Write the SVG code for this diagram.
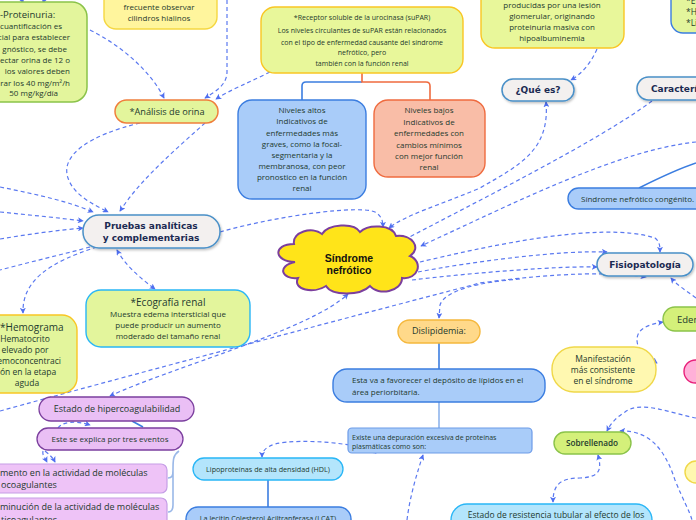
<svg xmlns="http://www.w3.org/2000/svg" width="696" height="520" viewBox="0 0 696 520">
<defs>
<marker id="ar" viewBox="0 0 8 8" refX="7" refY="4" markerWidth="6" markerHeight="6" orient="auto-start-reverse" markerUnits="userSpaceOnUse">
<path d="M0,0 L8,4 L0,8 L2,4 z" fill="#4f6ff0"/>
</marker>
<filter id="sh" x="-10%" y="-20%" width="130%" height="160%">
<feDropShadow dx="1" dy="1.5" stdDeviation="1" flood-color="#000" flood-opacity="0.25"/>
</filter>
<style>
.dl{fill:none;stroke:#5b79f0;stroke-width:1.2;stroke-dasharray:4 3}
.sl{fill:none;stroke-width:1.6}
.t{font-family:"Open Sans","Noto Sans","DejaVu Sans",sans-serif;fill:#1e3a2e}
.b{font-family:"DejaVu Sans","Verdana",sans-serif;font-weight:bold;fill:#1b2a52;font-size:9px}
.g{fill:#e3f59c}
.bl{fill:#a9ccf9;stroke:#3b7de0;stroke-width:1.4}
.gr{fill:#f3f0ef;stroke:#4a90c8;stroke-width:1.5;filter:url(#sh)}
.pu{fill:#eabff5;stroke:#7b3f9e;stroke-width:1.3}
.cy{fill:#b3e5fc;stroke:#29b6f6;stroke-width:1.3}
.m{text-anchor:middle}
</style>
</defs>
<rect width="696" height="520" fill="#ffffff"/>

<g id="connectors">
<path class="dl" d="M20,-6 L23,3" marker-end="url(#ar)"/>
<path class="dl" d="M46,-6 L43,3" marker-end="url(#ar)"/>
<path class="dl" d="M90,30 C120,45 150,70 164,98" marker-end="url(#ar)"/>
<path class="dl" d="M227,0 L227,72 C227,85 215,92 205,98" marker-end="url(#ar)"/>
<path class="dl" d="M270,72 C250,82 230,90 216,99" marker-end="url(#ar)"/>
<path class="dl" d="M140,123 C90,135 60,155 68,178 C74,196 95,205 108,212" marker-end="url(#ar)"/>
<path class="dl" d="M205,123 C175,150 140,180 120,211" marker-end="url(#ar)"/>
<path class="dl" d="M0,187 C40,195 70,202 93,212" marker-end="url(#ar)"/>
<path class="dl" d="M0,212 C30,215 60,218 83,221" marker-end="url(#ar)"/>
<path class="dl" d="M0,239 C30,234 60,230 83,228" marker-end="url(#ar)"/>
<path class="dl" d="M90,247 C60,255 30,262 0,270"/>
<path class="dl" d="M97,247 C50,262 22,280 23,313" marker-end="url(#ar)"/>
<path class="dl" d="M117,250 C125,265 140,278 155,289" marker-start="url(#ar)" marker-end="url(#ar)"/>
<path class="dl" d="M220,232 C280,215 360,205 375,212 C382,216 383,222 383,227" marker-end="url(#ar)"/>
<path class="dl" d="M546,102 C550,150 520,165 480,188 C440,205 405,215 389,228" marker-start="url(#ar)" marker-end="url(#ar)"/>
<path class="dl" d="M652,101 C600,140 480,200 398,243" marker-end="url(#ar)"/>
<path class="dl" d="M696,142 C620,150 520,200 421,246" marker-end="url(#ar)"/>
<path class="dl" d="M420,262 C480,248 600,220 655,238 C660,242 660,247 660,252" marker-end="url(#ar)"/>
<path class="dl" d="M418,272 C470,262 560,250 607,252" marker-end="url(#ar)"/>
<path class="dl" d="M412,280 C480,272 560,266 597,267" marker-end="url(#ar)"/>
<path class="dl" d="M0,411 C120,378 300,330 480,283 C560,272 620,272 646,277" marker-end="url(#ar)"/>
<path class="dl" d="M520,279 C480,282 445,290 440,305 L439,318" marker-end="url(#ar)"/>
<path class="dl" d="M110,396 C170,368 310,330 348,294" marker-start="url(#ar)" marker-end="url(#ar)"/>
<path class="dl" d="M696,298 C685,290 676,284 671,278" marker-end="url(#ar)"/>
<path class="dl" d="M663,322 C645,325 637,330 637,340 C637,352 650,358 657,363" marker-start="url(#ar)" marker-end="url(#ar)"/>
<path class="dl" d="M597,49 C590,65 580,75 571,80" marker-end="url(#ar)"/>
<path class="dl" d="M376,453 C360,443 300,438 275,444 C265,447 262,452 262,457" marker-start="url(#ar)" marker-end="url(#ar)"/>
<path class="dl" d="M407,520 C410,495 418,470 423,455" marker-end="url(#ar)"/>
<path class="dl" d="M598,455 C602,470 600,477 580,478 C560,478 553,485 553,502" marker-start="url(#ar)" marker-end="url(#ar)"/>
<path class="dl" d="M696,418 C670,413 640,400 625,412 C615,418 610,425 607,431" marker-end="url(#ar)"/>
<path class="dl" d="M620,431 C650,430 665,450 675,480 C683,500 690,512 692,520" marker-start="url(#ar)"/>
<path class="dl" d="M58,428 C62,422 75,420 90,425" marker-end="url(#ar)"/>
<path class="dl" d="M43,451 C42,455 45,458 47,462" marker-end="url(#ar)"/>
<path class="dl" d="M45,451 C50,455 53,458 55,462" marker-end="url(#ar)"/>

<path class="sl" stroke="#3b7de0" stroke-width="2" d="M302,100 L302,86 Q302,82 306,82 L362,82"/>
<path class="sl" stroke="#ef6b3f" stroke-width="2" d="M362,73 L362,82 L426,82 Q430,82 430,86 L430,100"/>
<path class="sl" stroke="#3b7de0" d="M439,343 L439,369"/>
<path class="sl" stroke="#8fb4ec" stroke-width="1" d="M439,402 L439,428"/>
<path class="sl" stroke="#3b7de0" d="M268,480 L268,507"/>
<path class="sl" stroke="#3b7de0" stroke-width="1.8" d="M639,188 C655,180 675,170 696,163"/>
<path class="sl" stroke="#3b7de0" d="M132,421 L143,427"/>
<path class="sl" stroke="#9ab8e8" stroke-width="1" d="M179,451 C173,455 173,460 173,470 C173,476 172,478 168,478 M173,470 L173,505 C173,510 171,512 168,512"/>
</g>

<g id="proteinuria">
<rect x="-20" y="2" width="107" height="100" rx="15" class="g" stroke="#8bc34a" stroke-width="1.5"/>
<text class="t" x="0" y="18" font-size="9.5">-Proteinuria:</text>
<g class="t" font-size="8" text-anchor="end">
<text x="62" y="29">cuantificación es</text>
<text x="70" y="40">cial para establecer</text>
<text x="67" y="51.5">gnóstico, se debe</text>
<text x="70" y="63">ectar orina de 12 o</text>
<text x="70" y="74">los valores deben</text>
<text x="70" y="85.5">rar los 40 mg/m²/h</text>
<text x="58" y="96">50 mg/kg/día</text>
</g>
</g>

<g id="cilindros">
<rect x="104" y="-15" width="113" height="44" rx="12" fill="#fff59d" stroke="#f5d742" stroke-width="1.4"/>
<text class="t m" x="159" y="10" font-size="8">frecuente observar</text>
<text class="t m" x="159" y="21" font-size="8">cilindros hialinos</text>
</g>

<g id="analisis">
<rect x="115" y="100" width="103" height="23" rx="11.5" class="g" stroke="#f07f3c" stroke-width="1.5"/>
<text class="t m" x="167" y="114.5" font-size="9.2">*Análisis de orina</text>
</g>

<g id="supar">
<rect x="261" y="7" width="202" height="66" rx="14" fill="#e8f79a" stroke="#f9c623" stroke-width="1.4"/>
<g class="t m" font-size="7">
<text x="362" y="20">*Receptor soluble de la urocinasa (suPAR)</text>
<text x="362" y="32.5">Los niveles circulantes de suPAR están relacionados</text>
<text x="362" y="44.5">con el tipo de enfermedad causante del síndrome</text>
<text x="362" y="55">nefrótico, pero</text>
<text x="362" y="66">también con la función renal</text>
</g>
</g>

<g id="altos">
<rect x="238" y="100" width="128" height="99" rx="14" class="bl"/>
<g class="t m" font-size="8">
<text x="302" y="113">Niveles altos</text>
<text x="302" y="124">Indicativos de</text>
<text x="302" y="136">enfermedades más</text>
<text x="302" y="147">graves, como la focal-</text>
<text x="302" y="158">segmentaria y la</text>
<text x="302" y="169">membranosa, con peor</text>
<text x="302" y="180">pronostico en la función</text>
<text x="302" y="191">renal</text>
</g>
</g>

<g id="bajos">
<rect x="374" y="100" width="111" height="77" rx="14" fill="#f9bda7" stroke="#ef6b3f" stroke-width="1.4"/>
<g class="t m" font-size="8">
<text x="429" y="113">Niveles bajos</text>
<text x="429" y="125">Indicativos de</text>
<text x="429" y="136">enfermedades con</text>
<text x="429" y="148">cambios mínimos</text>
<text x="429" y="159">con mejor función</text>
<text x="429" y="170">renal</text>
</g>
</g>

<g id="lesion">
<rect x="481" y="-15" width="143" height="63" rx="14" fill="#e8f79a" stroke="#f9c623" stroke-width="1.4"/>
<g class="t m" font-size="8">
<text x="552" y="8">producidas por una lesión</text>
<text x="552" y="19">glomerular, originando</text>
<text x="552" y="30">proteinuria masiva con</text>
<text x="552" y="41">hipoalbuminemia</text>
</g>
</g>

<g id="topright">
<rect x="671" y="-15" width="60" height="48" rx="12" class="g" stroke="#3b7de0" stroke-width="1.4"/>
<g class="t" font-size="8.5">
<text x="686" y="4">*E</text>
<text x="686" y="15">*H</text>
<text x="686" y="25.5">*Li</text>
</g>
</g>

<g id="quees">
<rect x="502" y="79" width="72" height="22" rx="11" class="gr"/>
<text class="b m" x="538" y="93.2">¿Qué es?</text>
</g>

<g id="caracteristicas">
<rect x="637" y="77" width="100" height="23" rx="11.5" class="gr"/>
<text class="b" x="651" y="92">Características</text>
</g>

<g id="congenito">
<rect x="568" y="188" width="140" height="21" rx="10.5" class="bl"/>
<text class="t" x="581" y="201.8" font-size="8">Síndrome nefrótico congénito.</text>
</g>

<g id="pruebas">
<rect x="83" y="215" width="137" height="33" rx="16" class="gr"/>
<text class="b m" x="151" y="228.5">Pruebas analíticas</text>
<text class="b m" x="151" y="240.5">y complementarias</text>
</g>

<g id="sindrome">
<path d="M295,262 C274,262 272,244 294,244 C292,232 312,226 322,234 C328,224 354,222 360,232 C368,224 392,224 396,236 C412,234 422,248 410,256 C424,262 418,280 402,278 C402,292 378,296 370,286 C360,296 332,296 326,286 C314,294 292,290 298,278 C282,280 276,266 295,262 Z" fill="#ffe419" stroke="#7b3f9e" stroke-width="2"/>
<text x="349" y="262" font-family="'Liberation Sans',Arial,sans-serif" font-weight="bold" font-size="10.5" text-anchor="middle" fill="#111">Síndrome</text>
<text x="349" y="274" font-family="'Liberation Sans',Arial,sans-serif" font-weight="bold" font-size="10.5" text-anchor="middle" fill="#111">nefrótico</text>
</g>

<g id="fisiopatologia">
<rect x="597" y="253" width="96" height="23" rx="11.5" class="gr"/>
<text class="b m" x="645" y="268">Fisiopatología</text>
</g>

<g id="edema">
<rect x="663" y="307" width="60" height="24" rx="12" fill="#d4f07a" stroke="#8bc34a" stroke-width="1.4"/>
<text class="t" x="677" y="322.5" font-size="9.5">Edema</text>
</g>

<g id="manifestacion">
<rect x="552" y="347" width="104" height="45" rx="22" fill="#fff8b0" stroke="#f0d84a" stroke-width="1.4"/>
<g class="t m" font-size="8.5">
<text x="603" y="362">Manifestación</text>
<text x="603" y="373">más consistente</text>
<text x="603" y="384">en el síndrome</text>
</g>
</g>

<g id="rosa">
<rect x="684" y="360" width="30" height="23" rx="11.5" fill="#ffb0d8" stroke="#e8207a" stroke-width="1.4"/>
</g>

<g id="ecografia">
<rect x="86" y="290" width="164" height="57" rx="15" class="g" stroke="#29b6f6" stroke-width="1.4"/>
<text class="t m" x="168" y="305.5" font-size="10">*Ecografía renal</text>
<g class="t m" font-size="8">
<text x="168" y="317">Muestra edema intersticial que</text>
<text x="168" y="328">puede producir un aumento</text>
<text x="168" y="339">moderado del tamaño  renal</text>
</g>
</g>

<g id="hemograma">
<rect x="-22" y="315" width="99" height="78" rx="15" class="g" stroke="#f9c623" stroke-width="1.4"/>
<text class="t" x="0" y="330.5" font-size="10">*Hemograma</text>
<g class="t" font-size="8.5">
<text x="25" y="342" text-anchor="middle">Hematocrito</text>
<text x="25" y="353" text-anchor="middle">elevado por</text>
<text x="61" y="364" text-anchor="end">emoconcentraci</text>
<text x="0" y="375">ón en la etapa</text>
<text x="27" y="386" text-anchor="middle">aguda</text>
</g>
</g>

<g id="dislipidemia">
<rect x="398" y="320" width="82" height="23" rx="11.5" fill="#ffd98a" stroke="#f5b83d" stroke-width="1.4"/>
<text class="t m" x="439" y="334.3" font-size="9">Dislipidemia:</text>
</g>

<g id="estava">
<rect x="333" y="369" width="212" height="33" rx="14" class="bl"/>
<text class="t" x="352" y="383" font-size="8">Esta va a favorecer el depósito de lípidos en el</text>
<text class="t" x="352" y="395" font-size="8">área periorbitaria.</text>
</g>

<g id="existe">
<rect x="348" y="428" width="184" height="25" rx="4" fill="#a9ccf9" stroke="#6d9be8" stroke-width="1.2"/>
<text class="t" x="352" y="439.5" font-size="7">Existe una depuración excesiva de proteínas</text>
<text class="t" x="352" y="448.5" font-size="7">plasmáticas como son:</text>
</g>

<g id="hdl">
<rect x="193" y="458" width="150" height="22" rx="11" class="cy"/>
<text class="t m" x="268" y="471.5" font-size="7.2">Lipoproteínas de alta densidad (HDL)</text>
</g>

<g id="lcat">
<rect x="186" y="507" width="165" height="30" rx="12" class="bl"/>
<text class="t m" x="268" y="521" font-size="7.2">La lecitin Colesterol Aciltranferasa (LCAT)</text>
</g>

<g id="sobrellenado">
<rect x="554" y="432" width="77" height="22" rx="11" fill="#d4f07a" stroke="#8bc34a" stroke-width="1.4"/>
<text class="t m" x="592" y="446" font-size="8.2" font-weight="600">Sobrellenado</text>
</g>

<g id="resistencia">
<rect x="451" y="504" width="201" height="40" rx="16" class="cy"/>
<text class="t m" x="556" y="518" font-size="8.5">Estado de resistencia tubular al efecto de los</text>
</g>

<g id="amarillo">
<rect x="685" y="461" width="30" height="22" rx="11" fill="#fff8b0" stroke="#f0d84a" stroke-width="1.4"/>
</g>

<g id="hipercoagulabilidad">
<rect x="39" y="397" width="155" height="24" rx="12" class="pu"/>
<text class="t m" x="117" y="412" font-size="9" fill="#1a1a2a">Estado de hipercoagulabilidad</text>
</g>

<g id="eventos">
<rect x="37" y="428" width="146" height="22" rx="11" class="pu"/>
<text class="t m" x="110" y="442" font-size="8">Este se explica por tres eventos</text>
</g>

<g id="aumento">
<rect x="-15" y="464" width="182" height="29" rx="6" fill="#eec3f7" stroke="#c59ee6" stroke-width="1.2"/>
<text class="t" x="0" y="475.5" font-size="9">mento en la actividad de moléculas</text>
<text class="t" x="1" y="488" font-size="9">ocoagulantes</text>
</g>

<g id="disminucion">
<rect x="-15" y="498" width="182" height="30" rx="6" fill="#eec3f7" stroke="#c59ee6" stroke-width="1.2"/>
<text class="t" x="0" y="510" font-size="9">minución de la actividad de moléculas</text>
<text class="t" x="1" y="523" font-size="9">ticoagulantes</text>
</g>
</svg>
